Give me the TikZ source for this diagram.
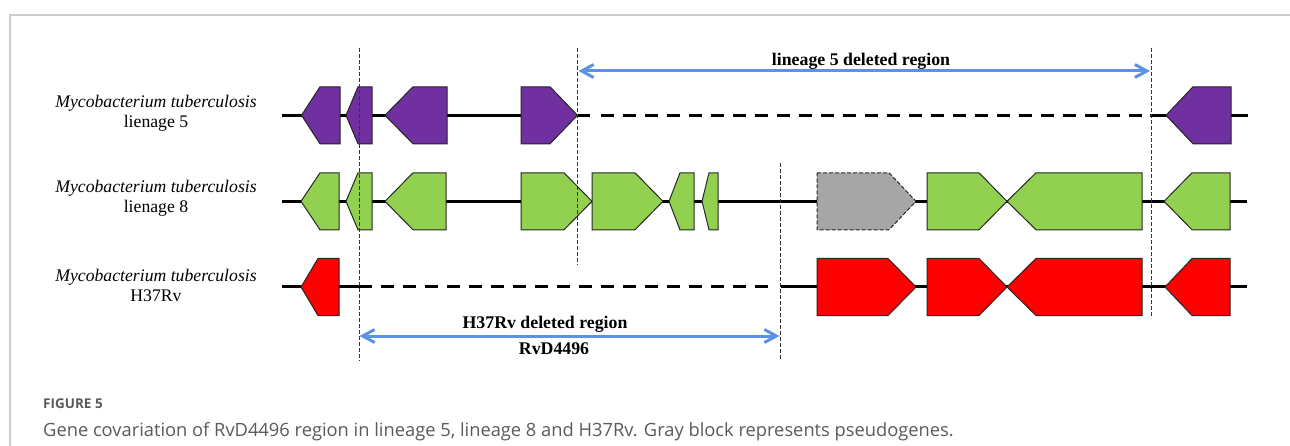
\documentclass[tikz,border=0pt]{standalone}
\usepackage{fontspec}
\setmainfont{Liberation Serif}
\newfontfamily\capfont{Open Sans}
\usetikzlibrary{arrows.meta}
\definecolor{purp}{HTML}{7030A0}
\definecolor{grn}{HTML}{92D050}
\definecolor{rd}{HTML}{FF0000}
\definecolor{gry}{HTML}{A6A6A6}
\definecolor{blu}{RGB}{91,146,228}
\definecolor{capgray}{HTML}{5A5A5A}
\definecolor{figgray}{HTML}{5A5A5A}
\definecolor{framegray}{HTML}{CCCCCC}
\definecolor{outl}{HTML}{262626}
\newcommand\geneR[5][]{\filldraw[gene,#1] (#2,#5-28.5) -- (#3,#5-28.5) -- (#4,#5) -- (#3,#5+28.5) -- (#2,#5+28.5) -- cycle;}
\newcommand\geneL[5][]{\filldraw[gene,#1] (#2,#5) -- (#3,#5-28.5) -- (#4,#5-28.5) -- (#4,#5+28.5) -- (#3,#5+28.5) -- cycle;}
\tikzset{
  gene/.style={draw=outl, line width=1pt, line join=miter},
  backbone/.style={line width=3pt, black},
  bbdash/.style={line width=3pt, black, dash pattern=on 13pt off 9pt},
  vdash/.style={line width=0.9pt, draw=black!80, dash pattern=on 4pt off 2pt},
  blarrow/.style={line width=3pt, draw=blu, {Straight Barb[length=12pt,width=13pt]}-{Straight Barb[length=12pt,width=13pt]}},
  rowlabel/.style={align=center, font=\fontsize{17.7}{20}\selectfont, inner sep=0pt},
  reglabel/.style={font=\fontsize{17.8}{20}\selectfont\bfseries, inner sep=0pt, anchor=base},
}
\begin{document}
\begin{tikzpicture}[x=1pt,y=-1pt]
\useasboundingbox (0,0) rectangle (1290,446);
% frame
\draw[framegray, line width=2pt] (1290,15.5) -- (9.5,15.5) -- (9.5,446);

% vertical dashed guide lines
\coordinate (v1t) at (359,48);   \coordinate (v1b) at (359,361);
\coordinate (v2t) at (577.5,48); \coordinate (v2b) at (577.5,265);
\coordinate (v3t) at (780.5,163);\coordinate (v3b) at (780.5,361);
\coordinate (v4t) at (1151.5,48);\coordinate (v4b) at (1151.5,318);

% ---- row 1 (lineage 5) backbone
\draw[backbone] (282,115.3) -- (590,115.3);
\draw[bbdash] (601,115.3) -- (1150,115.3);
\draw[backbone] (1150,115.3) -- (1248,115.3);
% ---- row 2 backbone
\draw[backbone] (282,201.3) -- (1247,201.3);
% ---- row 3 backbone
\draw[backbone] (282,287) -- (359,287);
\draw[bbdash] (359,287) -- (776,287);
\draw[backbone] (781,287) -- (1247,287);

% ---- row 1 genes (purple)
\geneL[fill=purp]{301.5}{320}{340}{115.3}
\geneL[fill=purp]{346}{358}{372}{115.3}
\geneL[fill=purp]{385}{413}{447}{115.3}
\geneR[fill=purp]{521}{550}{577.5}{115.3}
\geneL[fill=purp]{1166}{1193}{1231}{115.3}

% ---- row 2 genes (green)
\geneL[fill=grn]{301}{320}{339}{201.3}
\geneL[fill=grn]{346}{358}{372}{201.3}
\geneL[fill=grn]{385}{413}{446}{201.3}
\geneR[fill=grn]{521}{564}{592}{201.3}
\geneR[fill=grn]{592}{635}{663}{201.3}
\geneL[fill=grn]{669}{680}{694}{201.3}
\geneL[fill=grn]{702}{709}{718}{201.3}
\geneR[fill=gry,dash pattern=on 4pt off 2pt]{817}{889}{916}{201.3}
\geneR[fill=grn]{927}{979}{1007}{201.3}
\geneL[fill=grn]{1007}{1036}{1142}{201.3}
\geneL[fill=grn]{1164}{1192}{1230}{201.3}

% ---- row 3 genes (red)
\geneL[fill=rd]{301}{318}{339}{287}
\geneR[fill=rd]{817}{888}{916}{287}
\geneR[fill=rd]{927}{979}{1007}{287}
\geneL[fill=rd]{1007}{1036}{1142}{287}
\geneL[fill=rd]{1165}{1192}{1230}{287}

% guide lines on top
\draw[vdash] (v1t) -- (v1b);
\draw[vdash] (v2t) -- (v2b);
\draw[vdash] (v3t) -- (v3b);
\draw[vdash] (v4t) -- (v4b);

% deleted-region arrows
\coordinate (a1s) at (578.5,71);  \coordinate (a1e) at (1150,71);
\coordinate (a2s) at (359.5,336); \coordinate (a2e) at (779.5,336);
\draw[blarrow] (a1s) -- (a1e);
\draw[blarrow] (a2s) -- (a2e);
\node[reglabel] (l5lab) at (861,66) {lineage 5 deleted region};
\node[reglabel] (h37lab) at (545,328) {H37Rv deleted region};
\node[reglabel] (rvdlab) at (554,354) {RvD4496};

% row labels
\node[rowlabel] (r1) at (156,113) {\textit{Mycobacterium tuberculosis}\\lienage 5};
\node[rowlabel] (r2) at (156,198) {\textit{Mycobacterium tuberculosis}\\lienage 8};
\node[rowlabel] (r3) at (156,285) {\textit{Mycobacterium tuberculosis}\\H37Rv};

% caption
\node[anchor=west, inner sep=0pt, text=figgray, font=\capfont\fontsize{13.5}{16}\selectfont\bfseries] (fig) at (43,404) {FIGURE 5};
\node[anchor=west, inner sep=0pt, text=capgray, font=\capfont\fontsize{18.3}{21}\selectfont] (cap) at (43,432) {Gene covariation of RvD4496 region in lineage 5, lineage 8 and H37Rv. Gray block represents pseudogenes.};
\end{tikzpicture}
\end{document}
